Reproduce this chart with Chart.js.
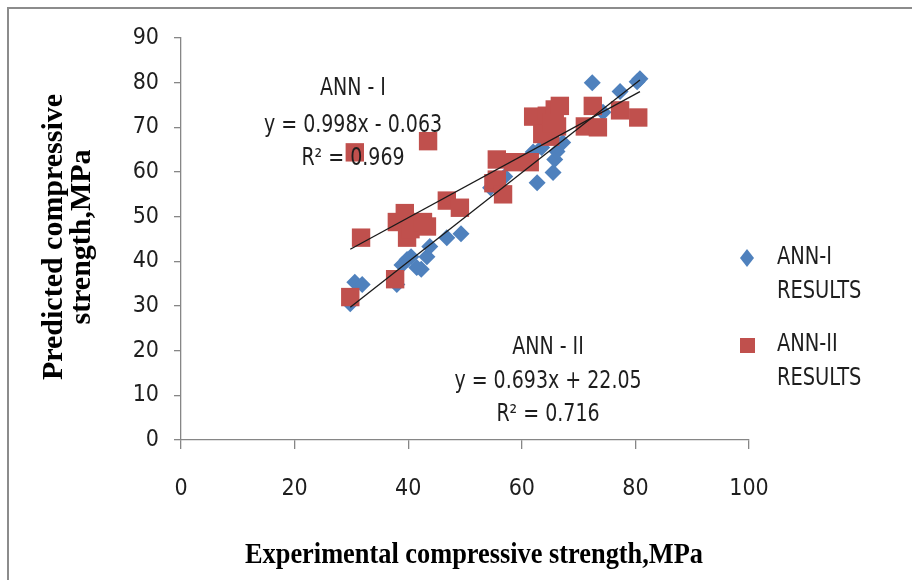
<!DOCTYPE html>
<html>
<head>
<meta charset="utf-8">
<script src="https://cdn.jsdelivr.net/npm/chart.js@4.4.1/dist/chart.umd.min.js"></script>
<style>
  html, body { margin: 0; padding: 0; background: #ffffff; }
  #wrap { width: 912px; height: 580px; position: relative; }
</style>
</head>
<body>
<div id="wrap"><canvas id="chart" width="912" height="580"></canvas></div>
<script>
// ANN-I results (experimental, predicted)
const annIExp  = [29.8, 30.6, 31.9, 38.0, 38.9, 39.8, 40.5, 41.5, 42.3, 43.3, 43.8, 46.8, 49.3, 54.5, 57.0,
                  62.0, 62.7, 63.5, 65.5, 65.8, 66.2, 67.2, 72.4, 74.3, 77.3, 80.3, 80.8];
const annIPred = [30.5, 35.3, 34.8, 34.8, 39.2, 40.4, 41.0, 38.6, 38.2, 41.0, 43.3, 45.3, 46.2, 56.5, 59.0,
                  64.5, 57.6, 65.5, 59.9, 62.8, 64.6, 66.6, 80.0, 73.4, 78.0, 80.2, 80.9];

// ANN-II results (experimental, predicted)
const annIIExp  = [29.8, 30.6, 31.7, 37.7, 38.0, 39.4, 39.8, 40.4, 42.6, 43.3, 43.5, 46.8, 49.1, 55.0, 55.6,
                   55.6, 56.7, 58.5, 61.4, 62.0, 64.4, 65.0, 65.8, 66.2, 66.7, 71.1, 72.5, 73.4, 77.3, 80.5,
                   63.6, 65.2];
const annIIPred = [32.0, 64.4, 45.3, 36.0, 48.8, 50.8, 45.3, 47.2, 48.8, 47.8, 66.9, 53.6, 52.0, 57.5, 62.8,
                   58.3, 55.0, 62.2, 62.2, 72.4, 72.6, 67.9, 74.0, 70.2, 74.8, 70.2, 74.8, 70.0, 73.8, 72.2,
                   68.5, 71.0];

// linear trend lines, end points
const trendIX  = [29.8, 80.8];
const trendIY  = [29.7, 80.6];
const trendIIX = [29.8, 80.8];
const trendIIY = [42.7, 78.0];

const xTicks = [0, 20, 40, 60, 80, 100];
const yTicks = [0, 10, 20, 30, 40, 50, 60, 70, 80, 90];

const BLUE = '#4F81BD';
const RED = '#C0504D';
const SANS = "'Liberation Sans Narrow', 'DejaVu Sans Condensed', 'Open Sans', sans-serif";
const SERIF = "'Liberation Serif', 'DejaVu Serif', serif";
const TEXT = '#1e1e1e';

function pairs(xs, ys) {
    return xs.map((x, i) => ({ x: x, y: ys[i] }));
}

// narrow text: squeeze horizontally
function squeezed(ctx, text, x, y, sx) {
    ctx.save();
    ctx.translate(x, y);
    ctx.scale(sx, 1);
    ctx.fillText(text, 0, 0);
    ctx.restore();
}

const decorPlugin = {
    id: 'decor',
    afterDatasetsDraw(chart) {
        const ctx = chart.ctx;
        ctx.save();
        ctx.fillStyle = TEXT;
        ctx.font = '24px ' + SANS;
        ctx.textAlign = 'center';
        ctx.textBaseline = 'middle';
        squeezed(ctx, 'ANN - I', 353, 89, 0.88);
        squeezed(ctx, 'y = 0.998x - 0.063', 353, 126, 0.88);
        squeezed(ctx, 'R\u00B2 = 0.969', 353, 159, 0.88);
        squeezed(ctx, 'ANN - II', 548, 348, 0.88);
        squeezed(ctx, 'y = 0.693x + 22.05', 548, 382, 0.88);
        squeezed(ctx, 'R\u00B2 = 0.716', 548, 415, 0.88);
        ctx.restore();
    },
    afterDraw(chart) {
        const ctx = chart.ctx;
        ctx.save();

        // outer frame
        ctx.strokeStyle = '#8c8c8c';
        ctx.lineWidth = 2;
        ctx.beginPath();
        ctx.moveTo(8, 600);
        ctx.lineTo(8, 8);
        ctx.lineTo(920, 8);
        ctx.stroke();

        // legend
        ctx.fillStyle = BLUE;
        ctx.beginPath();
        ctx.moveTo(747, 249);
        ctx.lineTo(754, 258);
        ctx.lineTo(747, 267);
        ctx.lineTo(740, 258);
        ctx.closePath();
        ctx.fill();
        ctx.fillStyle = RED;
        ctx.fillRect(740, 338, 15, 15);

        ctx.fillStyle = TEXT;
        ctx.font = '24px ' + SANS;
        ctx.textAlign = 'left';
        ctx.textBaseline = 'middle';
        squeezed(ctx, 'ANN-I', 777, 258, 0.9);
        squeezed(ctx, 'RESULTS', 777, 292, 0.9);
        squeezed(ctx, 'ANN-II', 777, 345, 0.9);
        squeezed(ctx, 'RESULTS', 777, 379, 0.9);

        // axis titles (bold serif, squeezed)
        ctx.fillStyle = '#000000';
        ctx.font = 'bold 29px ' + SERIF;
        ctx.textBaseline = 'alphabetic';
        ctx.textAlign = 'center';
        const xt = 'Experimental compressive strength,MPa';
        squeezed(ctx, xt, 474, 563, 458 / ctx.measureText(xt).width);

        const yt = 'Predicted compressive';
        const sy = 286 / ctx.measureText(yt).width;
        ctx.save();
        ctx.translate(62, 237);
        ctx.rotate(-Math.PI / 2);
        ctx.scale(sy, 1);
        ctx.fillText(yt, 0, 0);
        ctx.fillText('strength,MPa', 0, 28);
        ctx.restore();

        ctx.restore();
    }
};

const tickFont = { family: SANS, size: 23 };

new Chart(document.getElementById('chart'), {
    type: 'scatter',
    data: {
        datasets: [
            {
                type: 'line',
                label: 'trend I',
                data: pairs(trendIX, trendIY),
                borderColor: '#1a1a1a',
                borderWidth: 1.3,
                pointRadius: 0,
                fill: false,
                order: 0
            },
            {
                type: 'line',
                label: 'trend II',
                data: pairs(trendIIX, trendIIY),
                borderColor: '#1a1a1a',
                borderWidth: 1.3,
                pointRadius: 0,
                fill: false,
                order: 0
            },
            {
                label: 'ANN-I RESULTS',
                data: pairs(annIExp, annIPred),
                pointStyle: 'rectRot',
                pointRadius: 8.5,
                pointHoverRadius: 8.5,
                backgroundColor: BLUE,
                borderColor: BLUE,
                borderWidth: 0,
                order: 2
            },
            {
                label: 'ANN-II RESULTS',
                data: pairs(annIIExp, annIIPred),
                pointStyle: 'rect',
                pointRadius: 13,
                pointHoverRadius: 13,
                backgroundColor: RED,
                borderColor: RED,
                borderWidth: 0,
                order: 1
            }
        ]
    },
    options: {
        responsive: false,
        devicePixelRatio: 1,
        animation: false,
        layout: { padding: { left: 0, top: 38, right: 163, bottom: 0 } },
        plugins: {
            legend: { display: false },
            tooltip: { enabled: false }
        },
        scales: {
            x: {
                type: 'linear',
                min: 0,
                max: 100,
                afterBuildTicks: (scale) => { scale.ticks = xTicks.map(v => ({ value: v })); },
                afterFit: (scale) => { scale.height = 140; },
                ticks: { font: tickFont, color: TEXT, padding: 26, maxRotation: 0 },
                grid: { drawOnChartArea: false, drawTicks: true, tickLength: 9, color: '#868686', lineWidth: 1.3 },
                border: { color: '#868686', width: 1.3 }
            },
            y: {
                type: 'linear',
                min: 0,
                max: 90,
                afterBuildTicks: (scale) => { scale.ticks = yTicks.map(v => ({ value: v })); },
                afterFit: (scale) => { scale.width = 181; },
                ticks: { font: tickFont, color: TEXT, padding: 15 },
                grid: { drawOnChartArea: false, drawTicks: true, tickLength: 7, color: '#868686', lineWidth: 1.3 },
                border: { color: '#868686', width: 1.3 }
            }
        }
    },
    plugins: [decorPlugin]
});
</script>
</body>
</html>
